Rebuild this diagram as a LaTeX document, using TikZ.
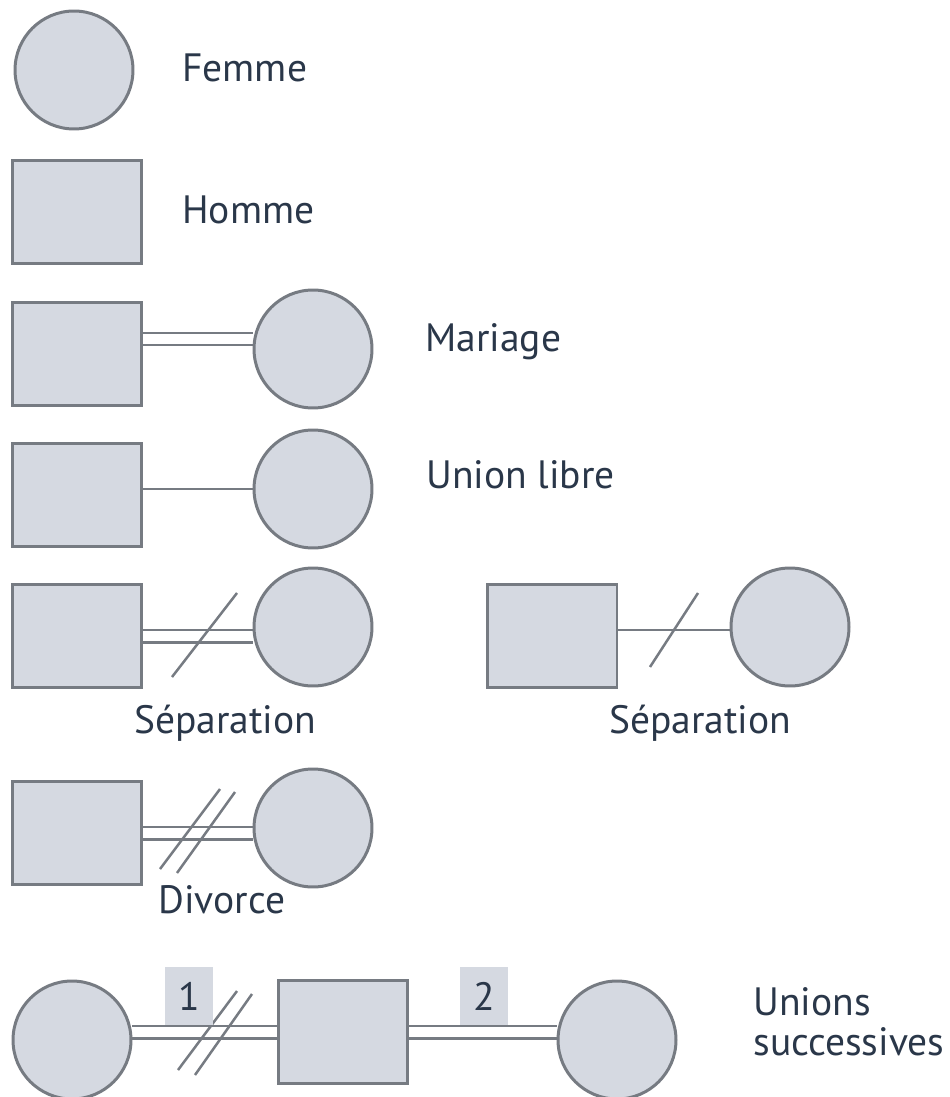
\documentclass[tikz,border=0pt]{standalone}
\usepackage{fontspec}
\usepackage{tikz}
\usepackage{xcolor}
\usetikzlibrary{backgrounds}
\setmainfont{PT Sans}
\definecolor{shapegray}{RGB}{213,217,225}
\definecolor{linegray}{RGB}{118,123,130}
\definecolor{inkblue}{RGB}{42,55,73}

\begin{document}
\begin{tikzpicture}[
		x=0.02cm, y=-0.02cm,
		femme/.style={circle, draw=linegray, fill=shapegray, line width=0.06cm,
			minimum size=2.36cm, inner sep=0pt},
		homme/.style={rectangle, draw=linegray, fill=shapegray, line width=0.06cm,
			minimum width=2.6cm, minimum height=2.06cm, inner sep=0pt},
		legend/.style={text=inkblue, font=\fontsize{22.5}{27}\selectfont, inner sep=0pt},
		wed/.style={draw=linegray, line width=0.05cm, double=white, double distance=0.2cm},
		libre/.style={draw=linegray, line width=0.05cm},
		cut/.style={draw=linegray, line width=0.05cm},
		rank/.style={fill=shapegray, text=inkblue, minimum width=0.96cm, minimum height=1.16cm,
			inner sep=0pt, font=\fontsize{22.5}{27}\selectfont}
	]
		\useasboundingbox (0,0) rectangle (949,1097);
		% symboles
		\node[femme] (f0) at (74,70) {};
		\node[legend, anchor=base west] (t0) at (182,82) {Femme};
		\node[homme] (h0) at (77,212) {};
		\node[legend, anchor=base west] (t1) at (182,224) {Homme};
		% mariage et union libre
		\node[homme] (hm) at (77,354) {};
		\node[femme] (fm) at (313,349) {};
		\node[legend, anchor=base west] (tm) at (425,352) {Mariage};
		\node[homme] (hu) at (77,495) {};
		\node[femme] (fu) at (313,489) {};
		\node[legend, anchor=base west] (tu) at (426,488) {Union libre};
		% separations
		\node[homme] (hs) at (77,636) {};
		\node[femme] (fs) at (313,627) {};
		\node[legend, anchor=base] (ts) at (225,733) {Séparation};
		\node[homme] (hr) at (552,636) {};
		\node[femme] (fr) at (790,627) {};
		\node[legend, anchor=base] (tr) at (700,733) {Séparation};
		% divorce
		\node[homme] (hd) at (77,833) {};
		\node[femme] (fd) at (313,828) {};
		\node[legend, anchor=base west] (td) at (158,913) {Divorce};
		% unions successives
		\node[femme] (fa) at (72,1040) {};
		\node[homme] (hb) at (343,1032) {};
		\node[femme] (fc) at (617,1040) {};
		\node[rank] (r1) at (189,996) {1};
		\node[rank] (r2) at (484,996) {2};
		\node[legend, anchor=base west] (tc) at (753,1015) {Unions};
		\node[legend, anchor=base west] (tc2) at (753,1055) {successives};

		\begin{scope}[on background layer]
			\draw[wed] ([yshift=0.2cm]fm.west -| hm.east) -- ([yshift=0.2cm]fm.west);
			\draw[libre] (fu.west -| hu.east) -- (fu.west);
			\draw[wed] (hs.east) -- (hs.east -| fs.west);
			\draw[libre] ([yshift=-0.06cm]fr.west -| hr.east) -- ([yshift=-0.06cm]fr.west);
			\draw[wed] (hd.east) -- (hd.east -| fd.west);
			\draw[wed] (hb.west -| fa.east) -- (hb.west);
			\draw[wed] (hb.east) -- (hb.east -| fc.west);
			% barres
			\draw[cut] (172,677) -- (237,593);
			\draw[cut] (650,667) -- (698,593);
			\draw[cut] (160,869) -- (220,789);
			\draw[cut] (177,873) -- (235,792);
			\draw[cut] (178,1070) -- (237,991);
			\draw[cut] (195,1075) -- (252,994);
		\end{scope}
	\end{tikzpicture}
\end{document}
